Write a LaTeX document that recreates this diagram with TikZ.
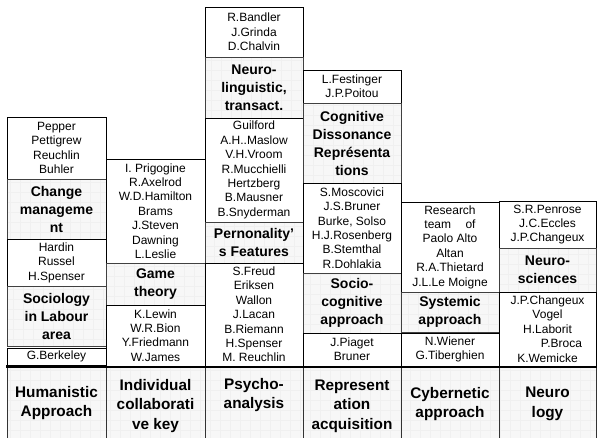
\documentclass[tikz,border=0pt]{standalone}
\usepackage{fontspec}
\setmainfont{Liberation Sans}
\begin{document}
\begin{tikzpicture}[x=0.75pt,y=-0.75pt,
  gridfill/.style={path picture={\draw[black!6,line width=0.2pt,step=7.5pt] (path picture bounding box.south west) grid (path picture bounding box.north east);}},
  namebox/.style={draw=black,line width=0.6pt,fill=white,inner sep=0pt,align=center,font=\fontsize{9}{10.8}\selectfont},
  headbox/.style={draw=black!75,line width=0.7pt,fill=black!3,gridfill,inner sep=0pt,align=center,font=\bfseries\fontsize{10.5}{13.5}\selectfont},
  basetext/.style={inner sep=0pt,align=center,font=\bfseries\fontsize{11.5}{14.5}\selectfont}]
\newcommand\cellbox[7]{%
  \pgfmathsetmacro\cellW{(#5-#3)*0.75}%
  \pgfmathsetmacro\cellH{(#6-#4)*0.75}%
  \node[#2,minimum width=\cellW pt,minimum height=\cellH pt] (#1) at ({(#3+#5)/2},{(#4+#6)/2}) {#7};}
\useasboundingbox (0,0) rectangle (597,438);
% base row
\path[fill=black!3] (7,366) rectangle (597,438);
\begin{scope}
\clip (7,366) rectangle (597,438);
\draw[black!6,line width=0.2pt,step=7.5pt] (0,360) grid (600,440);
\end{scope}
\foreach \xx in {7,106,205,303,401,499,596}{\draw[black!80,line width=0.7pt] (\xx,366) -- (\xx,438);}
\draw[black,line width=1.6pt] (6,366.5) -- (597,366.5);
% column 1
\cellbox{a1}{namebox}{7}{117}{106}{179}{Pepper\\Pettigrew\\Reuchlin\\Buhler}
\cellbox{a2}{headbox}{7}{179}{106}{239}{Change\\manageme\\nt}
\cellbox{a3}{namebox}{7}{239}{106}{286}{Hardin\\Russel\\H.Spenser}
\cellbox{a4}{headbox}{7}{286}{106}{346}{Sociology\\in Labour\\area}
\cellbox{a5}{namebox}{7}{348}{106}{365}{G.Berkeley}
\node[basetext] (b1) at (56.5,403) {Humanistic\\Approach};
% column 2
\cellbox{c1}{namebox}{106}{159}{205}{263}{I. Prigogine\\R.Axelrod\\W.D.Hamilton\\Brams\\J.Steven\\Dawning\\L.Leslie}
\cellbox{c2}{headbox}{106}{263}{205}{305}{Game\\theory}
\cellbox{c3}{namebox}{106}{305}{205}{366}{K.Lewin\\W.R.Bion\\Y.Friedmann\\W.James}
\node[basetext] (b2) at (155.5,406) {Individual\\collaborati\\ve key};
% column 3
\cellbox{d1}{namebox}{205}{7}{303}{57}{R.Bandler\\J.Grinda\\D.Chalvin}
\cellbox{d2}{headbox}{205}{57}{303}{118}{Neuro-\\linguistic,\\transact.}
\cellbox{d3}{namebox}{205}{118}{303}{222}{Guilford\\A.H..Maslow\\V.H.Vroom\\R.Mucchielli\\Hertzberg\\B.Mausner\\B.Snyderman}
\cellbox{d4}{headbox}{205}{222}{303}{263}{Pernonality’\\s Features}
\cellbox{d5}{namebox}{205}{263}{303}{366}{S.Freud\\Eriksen\\Wallon\\J.Lacan\\B.Riemann\\H.Spenser\\M. Reuchlin}
\node[basetext] (b3) at (254,395) {Psycho-\\analysis};
% column 4
\cellbox{e1}{namebox}{303}{70}{401}{103}{L.Festinger\\J.P.Poitou}
\cellbox{e2}{headbox}{303}{103}{401}{183}{Cognitive\\Dissonance\\Représenta\\tions}
\cellbox{e3}{namebox}{303}{183}{401}{273}{S.Moscovici\\J.S.Bruner\\Burke, Solso\\H.J.Rosenberg\\B.Stemthal\\R.Dohlakia}
\cellbox{e4}{headbox}{303}{273}{401}{333}{Socio-\\cognitive\\approach}
\cellbox{e5}{namebox}{303}{333}{401}{366}{J.Piaget\\Bruner}
\node[basetext] (b4) at (352,406) {Represent\\ation\\acquisition};
% column 5
\cellbox{f1}{namebox}{401}{202}{499}{292}{Research\\team\hspace{1.2em}of\\Paolo Alto\\Altan\\R.A.Thietard\\J.L.Le Moigne}
\cellbox{f2}{headbox}{401}{292}{499}{332}{Systemic\\approach}
\cellbox{f3}{namebox}{401}{333}{499}{366}{N.Wiener\\G.Tiberghien}
\node[basetext] (b5) at (450,404) {Cybernetic\\approach};
% column 6
\cellbox{g1}{namebox}{499}{201}{596}{248}{S.R.Penrose\\J.C.Eccles\\J.P.Changeux}
\cellbox{g2}{headbox}{499}{248}{596}{292}{Neuro-\\sciences}
\cellbox{g3}{namebox}{499}{292}{596}{366}{J.P.Changeux\\Vogel\\H.Laborit\\\hspace*{21pt}P.Broca\\K.Wemicke}
\node[basetext] (b6) at (547.5,404) {Neuro\\logy};
\end{tikzpicture}
\end{document}
